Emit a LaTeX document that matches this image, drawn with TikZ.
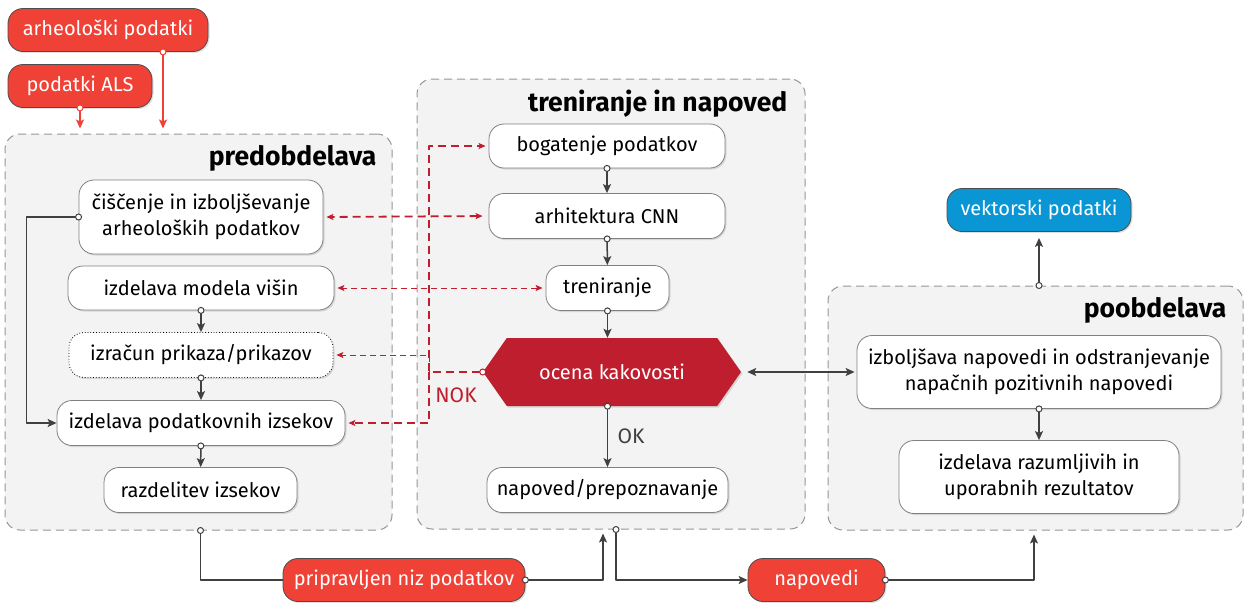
\documentclass[tikz,border=0pt]{standalone}
\usepackage{fontspec}
\setmainfont{Fira Sans}
\usetikzlibrary{arrows.meta,shapes.symbols,shadows}

\definecolor{boxred}{RGB}{239,65,54}
\definecolor{darkred}{RGB}{190,30,45}
\definecolor{boxblue}{RGB}{10,150,212}
\definecolor{linegray}{RGB}{64,64,64}
\definecolor{stagefill}{RGB}{243,243,243}
\definecolor{stageline}{RGB}{150,150,150}

\tikzset{
  boxshadow/.style={drop shadow={shadow xshift=1.5pt,shadow yshift=-1.5pt,opacity=.25}},
  stage/.style={draw=stageline,fill=stagefill,dash pattern=on 8pt off 5pt,line width=1pt,
    rounded corners=15pt,inner sep=0},
  stagetitle/.style={anchor=north east,inner sep=0,font=\fontsize{26.5}{30}\selectfont\bfseries},
  task/.style={draw=gray,fill=white,rounded corners=15pt,line width=.8pt,align=center,
    font=\fontsize{20}{26}\selectfont,minimum height=45pt,inner sep=0,boxshadow},
  datanode/.style={task,fill=boxred,text=white,draw=gray!60!black,minimum height=43pt},
  resultnode/.style={datanode,fill=boxblue},
  qualitynode/.style={signal,signal to=west and east,signal pointer angle=110,fill=darkred,
    text=white,font=\fontsize{20}{26}\selectfont,minimum width=258pt,minimum height=68pt,
    inner sep=0,boxshadow},
  flow/.style={draw=linegray,line width=1.5pt,shorten <=-3.5pt,
    {Circle[fill=white,length=7pt,line width=1pt]}-{Stealth[length=9pt,width=8pt,inset=2pt]}},
  inflow/.style={flow,draw=boxred,shorten >=5pt},
  plain/.style={draw=linegray,line width=1.5pt,shorten <=-3.5pt,
    {Circle[fill=white,length=7pt,line width=1pt]}-},
  feedback/.style={draw=darkred,line width=1.8pt,dash pattern=on 8pt off 5pt,
    -{Stealth[length=7pt,width=6pt,inset=1.5pt]},shorten >=3pt},
  feedbackthin/.style={feedback,line width=1pt,dash pattern=on 6pt off 4pt},
  answer/.style={font=\fontsize{21}{24}\selectfont}
}

\begin{document}
\begin{tikzpicture}[x=1pt,y=-1pt,line join=round]
\useasboundingbox (0,0) rectangle (1245,614);

% stages
\node[stage,minimum width=387pt,minimum height=396pt] (pred) at (198.5,332) {};
\node[stage,minimum width=388pt,minimum height=450pt] (tren) at (611,304) {};
\node[stage,minimum width=415pt,minimum height=244pt] (poo) at (1035.5,408) {};
\node[stagetitle] (predtitle) at ([xshift=-16pt,yshift=-12pt]pred.north east) {predobdelava};
\node[stagetitle] (trentitle) at ([xshift=-18pt,yshift=-11pt]tren.north east) {treniranje in napoved};
\node[stagetitle] (pootitle) at ([xshift=-17pt,yshift=-12pt]poo.north east) {poobdelava};

% input data
\node[datanode,minimum width=200pt] (arh) at (108,30) {arheološki podatki};
\node[datanode,minimum width=144pt] (als) at (80,86) {podatki ALS};

% predobdelava
\node[task,minimum width=244pt,minimum height=74pt] (cis) at (201,217) {čiščenje in izboljševanje\\arheoloških podatkov};
\node[task,minimum width=266pt,minimum height=44pt] (mod) at (201,288) {izdelava modela višin};
\node[task,minimum width=264pt,dotted,draw=black] (izr) at (201,355) {izračun prikaza/prikazov};
\node[task,minimum width=288pt] (izs) at (201,423) {izdelava podatkovnih izsekov};
\node[task,minimum width=193pt] (raz) at (200.5,490) {razdelitev izsekov};

% treniranje in napoved
\node[task,minimum width=236pt,minimum height=44pt] (bog) at (607,146) {bogatenje podatkov};
\node[task,minimum width=236pt] (arc) at (607,216) {arhitektura CNN};
\node[task,minimum width=123pt] (trn) at (607.5,288) {treniranje};
\node[qualitynode] (oce) at (612,372) {ocena kakovosti};
\node[task,minimum width=241pt] (nap) at (607.5,490) {napoved/prepoznavanje};

% poobdelava
\node[task,minimum width=364pt,minimum height=73pt] (izb) at (1039,372) {izboljšava napovedi in odstranjevanje\\napačnih pozitivnih napovedi};
\node[task,minimum width=280pt,minimum height=73pt] (izd) at (1039,477) {izdelava razumljivih in\\uporabnih rezultatov};

% intermediate data and result
\node[datanode,minimum width=242pt] (prip) at (404,580) {pripravljen niz podatkov};
\node[datanode,minimum width=137pt] (npd) at (816.5,580) {napovedi};
\node[resultnode,minimum width=184pt] (vek) at (1039,210) {vektorski podatki};

% connectors
\draw[inflow] ([xshift=55pt]arh.south) -- ([xshift=55pt]arh.south |- pred.north);
\draw[inflow] (als.south) -- (als.south |- pred.north);
\draw[flow] (cis.west) -- ++(-52,0) |- (izs.west);
\draw[flow] (mod) -- (izr);
\draw[flow] (izr) -- (izs);
\draw[flow] (izs) -- (raz);
\draw[plain] (raz.south |- pred.south) |- (prip.west);
\draw[flow,shorten >=4pt] (prip.east) -| ([xshift=-8pt]tren.south);

\draw[flow] (bog) -- (arc);
\draw[flow] (arc) -- (trn);
\draw[flow] (trn.south) -- (trn.south |- oce.north);
\draw[flow] (oce.south -| nap) -- (nap.north) node[midway,right,xshift=6pt,text=linegray,answer] {OK};
\draw[flow] ([xshift=5pt]tren.south) |- (npd.west);
\draw[flow,shorten >=4pt] (npd.east) -| ([xshift=-1.5pt]poo.south);

\draw[flow] (izb) -- (izd);
\draw[flow,shorten >=6pt] (izb |- poo.north) -- (vek.south);
\draw[draw=linegray,line width=1.5pt,{Stealth[length=9pt,width=8pt,inset=2pt]}-{Stealth[length=9pt,width=8pt,inset=2pt]},shorten <=6pt,shorten >=2pt] (oce.east) -- (izb.west);

% feedback
\coordinate (nok) at (429,372);
\draw[feedback,shorten <=-3.5pt,{Circle[fill=white,length=7pt,line width=1pt,sep=0pt]}-{Stealth[length=7pt,width=6pt,inset=1.5pt]}] (oce.west) -- (nok) |- (bog.west);
\draw[feedback] (nok) |- (izs.east);
\draw[feedbackthin] (nok) |- (izr.east);
\draw[feedback,{Stealth[length=7pt,width=6pt,inset=1.5pt]}-{Stealth[length=7pt,width=6pt,inset=1.5pt]},shorten <=6pt] (arc.west) -- (cis.east);
\draw[feedbackthin,{Stealth[length=7pt,width=6pt,inset=1.5pt]}-{Stealth[length=7pt,width=6pt,inset=1.5pt]},shorten <=3pt] (trn.west) -- (mod.east);
\node[text=darkred,answer] (noklabel) at (456,395) {NOK};
\end{tikzpicture}
\end{document}
